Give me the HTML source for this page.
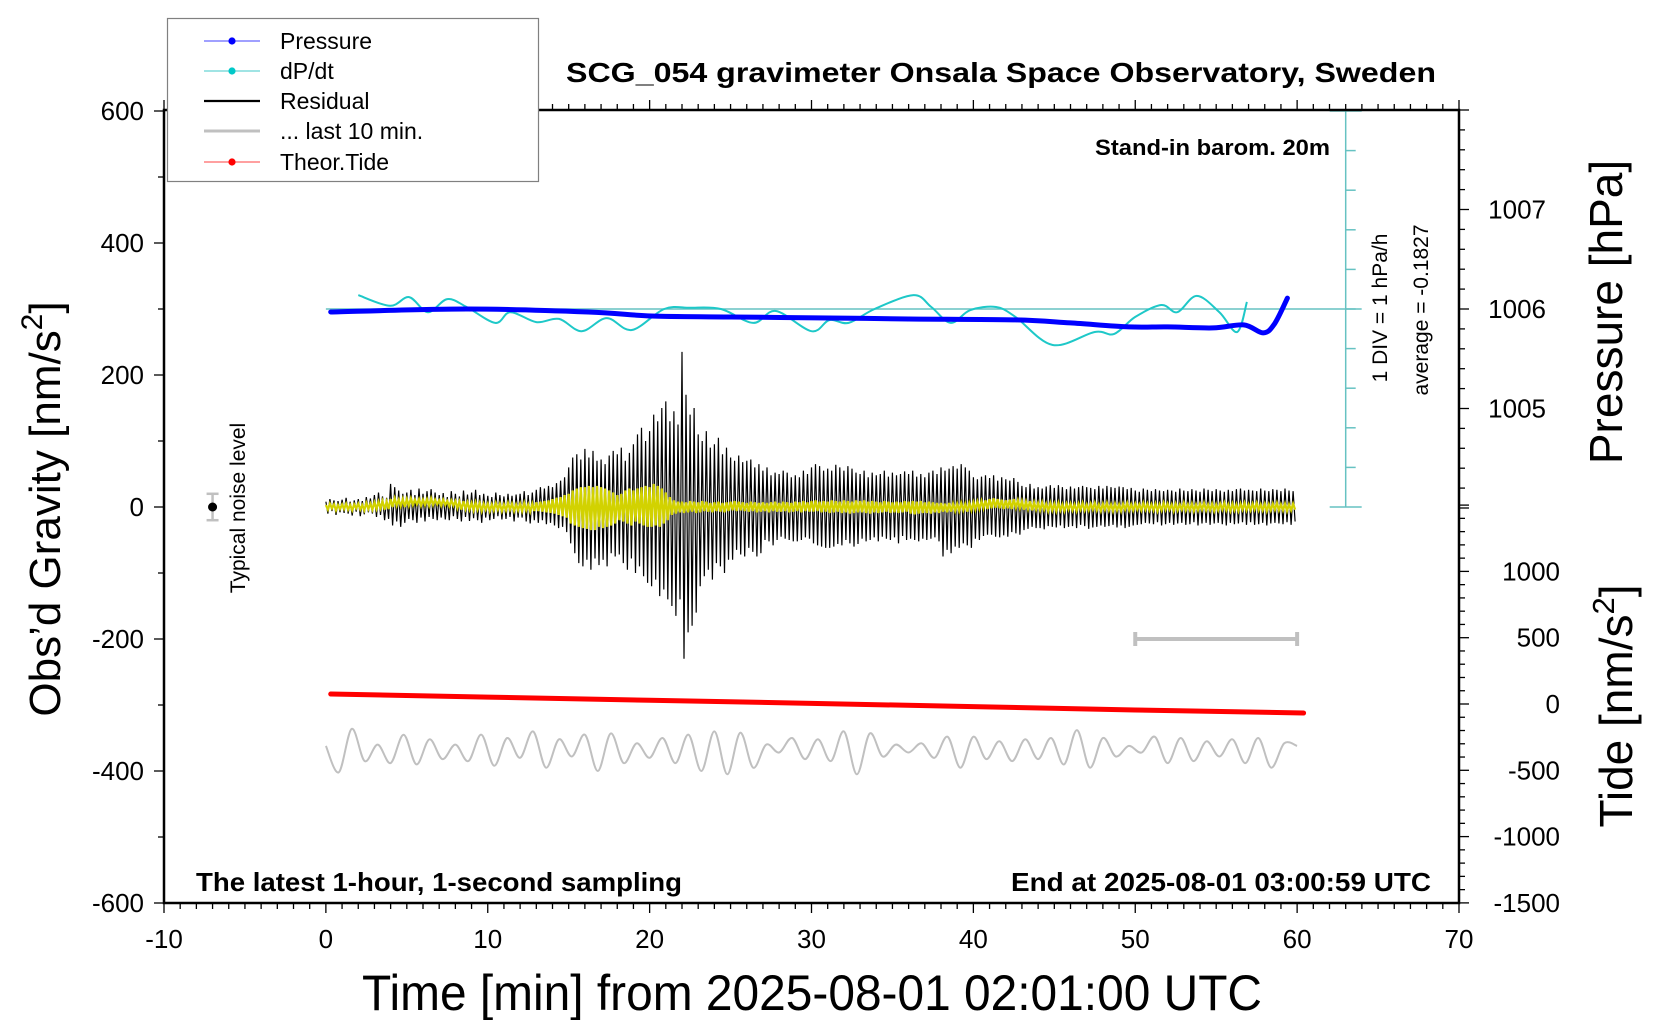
<!DOCTYPE html>
<html><head><meta charset="utf-8">
<style>
html,body{margin:0;padding:0;background:#fff;}
svg{display:block;font-family:"Liberation Sans",Arial,sans-serif;}
</style></head>
<body>
<svg id="chart" width="1660" height="1020" viewBox="0 0 1660 1020" xmlns="http://www.w3.org/2000/svg">
<g id="marks"></g>
<g id="axes"></g>
<g id="labels">
  <text x="566" y="82" font-size="28" font-weight="bold" textLength="870" lengthAdjust="spacingAndGlyphs">SCG_054 gravimeter Onsala Space Observatory, Sweden</text>
  <text x="1330" y="155" font-size="22" font-weight="bold" text-anchor="end" textLength="235" lengthAdjust="spacingAndGlyphs">Stand-in barom. 20m</text>
  <text x="196" y="891" font-size="26" font-weight="bold" textLength="486" lengthAdjust="spacingAndGlyphs">The latest 1-hour, 1-second sampling</text>
  <text x="1431" y="891" font-size="26" font-weight="bold" text-anchor="end" textLength="420" lengthAdjust="spacingAndGlyphs">End at 2025-08-01 03:00:59 UTC</text>
  <text x="362" y="1010" font-size="50" textLength="900" lengthAdjust="spacingAndGlyphs">Time [min] from 2025-08-01 02:01:00 UTC</text>
  <text transform="translate(60,509) rotate(-90)" font-size="44" text-anchor="middle">Obs’d Gravity [nm/s<tspan font-size="30" dy="-18">2</tspan><tspan dy="18">]</tspan></text>
  <text transform="translate(1622,312) rotate(-90)" font-size="46" text-anchor="middle">Pressure [hPa]</text>
  <text transform="translate(1632,706) rotate(-90)" font-size="46" text-anchor="middle">Tide [nm/s<tspan font-size="31" dy="-18">2</tspan><tspan dy="18">]</tspan></text>
  <text transform="translate(245,508) rotate(-90)" font-size="21" text-anchor="middle">Typical noise level</text>
  <text transform="translate(1387,308) rotate(-90)" font-size="21" text-anchor="middle">1 DIV = 1 hPa/h</text>
  <text transform="translate(1428,310) rotate(-90)" font-size="21" text-anchor="middle">average = -0.1827</text>
</g>
<g id="legend">
  <rect x="167.5" y="18.5" width="371" height="163" fill="#fff" stroke="#808080" stroke-width="1.2"/>
  <g>
    <line x1="204" y1="41" x2="260" y2="41" stroke="#4040ff" stroke-width="1"/><circle cx="232" cy="41" r="3.6" fill="#0000ff"/>
    <text x="280" y="49" font-size="23">Pressure</text></g>
  <g>
    <line x1="204" y1="71" x2="260" y2="71" stroke="#40c8c8" stroke-width="1"/><circle cx="232" cy="71" r="3.6" fill="#00c8c8"/>
    <text x="280" y="79" font-size="23">dP/dt</text></g>
  <g>
    <line x1="204" y1="101" x2="260" y2="101" stroke="#000" stroke-width="2.2"/>
    <text x="280" y="109" font-size="23">Residual</text></g>
  <g>
    <line x1="204" y1="131" x2="260" y2="131" stroke="#c0c0c0" stroke-width="3"/>
    <text x="280" y="139" font-size="23">... last 10 min.</text></g>
  <g>
    <line x1="204" y1="162" x2="260" y2="162" stroke="#ff4040" stroke-width="1"/><circle cx="232" cy="162" r="3.6" fill="#ff0000"/>
    <text x="280" y="170" font-size="23">Theor.Tide</text></g>
</g>
</svg>
<script>
// ---------- data ----------
const xTicks = [-10,0,10,20,30,40,50,60,70];
const gravTicks = [600,400,200,0,-200,-400,-600];
const pressTicks = [1007,1006,1005];
const tideTicks = [1000,500,0,-500,-1000,-1500];
const residualStep = 0.125;
const residual = [
8,-10,12,-6,10,-12,9,-8, 11,-9,14,-10,8,-13,10,-7, 12,-14,9,-11,15,-8,13,-10,
18,-15,22,-12,16,-20,14,-18, 35,-28,30,-22,25,-30,20,-24, 22,-18,26,-20,18,-24,28,-16,
20,-22,24,-15,27,-18,22,-20, 18,-16,21,-19,15,-20,24,-14, 20,-18,16,-22,25,-15,19,-21,
22,-17,26,-20,18,-24,20,-16, 17,-20,15,-18,22,-14,18,-19, 16,-18,20,-15,17,-22,19,-16,
20,-16,24,-22,18,-25,22,-20, 26,-24,30,-20,28,-26,32,-24, 30,-28,36,-32,40,-30,45,-38,
60,-55,75,-70,80,-85,72,-90, 88,-80,75,-95,85,-78,70,-88, 72,-80,65,-90,78,-70,85,-75,
80,-72,90,-85,70,-95,82,-78, 95,-100,110,-90,120,-105,100,-115, 115,-120,140,-110,130,-135,150,-125,
160,-140,130,-150,145,-165,125,-140, 235,-230,170,-190,140,-180,150,-160, 110,-120,100,-105,115,-95,90,-110,
95,-85,105,-90,80,-100,90,-80, 75,-80,70,-65,78,-72,68,-75, 70,-62,72,-68,60,-75,65,-70,
55,-50,60,-52,48,-58,52,-50, 50,-45,55,-48,52,-50,45,-52, 48,-52,45,-50,55,-46,50,-48,
60,-55,65,-58,62,-60,55,-62, 58,-62,55,-60,64,-56,60,-58, 55,-50,62,-55,58,-60,52,-56,
50,-48,55,-52,45,-50,52,-46, 48,-52,50,-45,55,-48,46,-50, 52,-46,48,-55,50,-44,54,-50,
50,-48,55,-50,46,-52,50,-48, 45,-50,52,-48,55,-46,50,-52, 60,-75,55,-65,58,-70,62,-60,
58,-62,65,-55,60,-58,55,-62, 45,-48,42,-50,46,-44,48,-42, 44,-42,48,-45,40,-46,45,-43,
42,-45,40,-38,44,-40,38,-42, 32,-35,30,-33,35,-30,28,-32, 30,-32,28,-34,31,-29,33,-30,
29,-31,33,-28,30,-32,27,-30, 31,-29,28,-32,30,-27,32,-29, 30,-33,29,-31,27,-30,32,-28,
28,-30,32,-29,30,-27,29,-31, 31,-28,30,-32,27,-30,29,-28, 25,-27,23,-26,28,-24,26,-25,
24,-26,27,-23,25,-28,24,-26, 26,-24,25,-27,23,-25,28,-24, 25,-27,24,-26,27,-23,25,-28,
23,-25,28,-24,26,-27,24,-25, 27,-24,25,-26,23,-28,26,-24, 24,-26,27,-25,28,-23,25,-27,
26,-23,25,-27,24,-26,28,-24, 25,-28,24,-25,27,-24,26,-25, 24,-26,28,-23,25,-27,24,-22];
const filtered = [
3,-4,5,-2,4,-5,3,-3, 4,-3,5,-4,3,-5,4,-2, 5,-4,3,-5,6,-3,5,-4,
7,-3,8,-2,9,-4,8,-3, 12,0,13,2,11,1,12,0, 12,2,13,3,11,4,12,2,
11,3,12,2,13,3,11,4, 10,2,11,3,9,1,10,2, 9,-2,8,-4,9,-3,7,-4,
6,-5,7,-4,6,-6,5,-4, 5,-6,4,-5,6,-4,5,-6, 4,-5,6,-4,5,-6,4,-5,
5,-6,6,-5,4,-7,5,-6, 7,-6,8,-7,9,-8,10,-9, 12,-10,14,-12,15,-14,18,-16,
20,-25,25,-28,28,-30,30,-32, 30,-33,32,-35,30,-35,32,-30, 30,-32,28,-30,25,-28,22,-25,
18,-20,20,-22,25,-25,28,-28, 25,-22,28,-25,30,-28,32,-30, 30,-30,35,-28,32,-30,28,-25,
22,-20,15,-12,10,-10,8,-8, 8,-9,7,-8,9,-7,8,-9, 7,-8,9,-6,8,-7,6,-8,
7,-6,8,-7,6,-8,7,-6, 8,-5,9,-6,8,-5,7,-6, 6,-7,8,-6,7,-8,6,-7,
7,-6,6,-8,7,-6,8,-7, 6,-7,8,-6,7,-8,6,-7, 8,-6,7,-8,9,-6,7,-7,
9,-7,10,-6,8,-8,9,-7, 8,-9,10,-8,9,-7,8,-9, 10,-8,9,-10,8,-9,10,-8,
9,-8,10,-9,8,-10,9,-8, 8,-9,7,-8,9,-7,8,-9, 7,-8,8,-9,7,-8,9,-7,
8,-10,9,-11,8,-10,9,-9, 7,-9,8,-10,7,-8,6,-9, 6,-7,5,-8,6,-7,5,-6,
5,-6,6,-5,5,-7,6,-5, 7,-4,8,-3,9,-2,10,-3, 12,-2,13,-1,12,-2,11,-3,
10,-2,11,-3,12,-1,10,-2, 9,-4,8,-3,9,-5,7,-4, 6,-5,7,-4,5,-6,6,-5,
5,-6,6,-5,4,-6,5,-4, 5,-5,4,-6,5,-4,6,-5, 4,-5,5,-4,6,-5,4,-6,
5,-4,6,-5,4,-6,5,-5, 4,-6,5,-4,6,-5,4,-5, 5,-4,4,-5,6,-4,5,-5,
4,-5,5,-6,4,-5,6,-4, 5,-4,4,-6,5,-5,4,-4, 6,-5,4,-5,5,-6,4,-5,
5,-4,6,-5,4,-5,5,-6, 4,-5,5,-4,6,-5,4,-6, 5,-5,4,-6,5,-4,6,-5,
4,-5,5,-4,6,-5,4,-5, 5,-6,4,-5,5,-4,6,-5, 4,-5,5,-6,4,-5,5,-4];
const lastTenStep = 0.8;
const lastTen = [-362,-402,-336,-385,-360,-388,-345,-390,-352,-382,-360,-385,-345,-392,-350,-380,-340,-395,-352,-378,-345,-400,-343,-388,-358,-380,-350,-388,-345,-400,-340,-405,-342,-395,-360,-372,-350,-382,-352,-385,-340,-405,-343,-378,-360,-372,-358,-380,-348,-395,-348,-382,-355,-385,-352,-382,-350,-390,-338,-395,-350,-378,-362,-372,-348,-388,-350,-385,-355,-378,-352,-388,-350,-395,-358,-362];
const pressureTime = [0.3,8.7,16.2,20.1,25,31.1,36,42.6,46,49.6,52,54.8,56.7,57.9,58.6,59.4];
const pressureVal = [1005.97,1006.00,1005.97,1005.93,1005.92,1005.91,1005.90,1005.89,1005.86,1005.82,1005.82,1005.81,1005.84,1005.76,1005.85,1006.11];
const dpdtTime = [2.0,3.96,5.14,6.3,7.5,8.7,10.46,11.4,13.0,14.4,15.8,17.35,18.9,20.9,22.5,24.4,26.4,27.8,30.0,31.1,32.3,33.9,36.3,37.4,38.6,39.8,41.4,42.6,44.9,47.5,48.7,50.0,51.6,52.6,53.8,55.2,56.3,56.9];
const dpdtVal = [0.35,0.08,0.30,-0.08,0.25,0.05,-0.35,-0.08,-0.33,-0.25,-0.56,-0.23,-0.53,0,0.03,0,-0.35,-0.05,-0.56,-0.28,-0.35,0,0.35,0.05,-0.35,-0.03,0.05,-0.2,-0.91,-0.58,-0.63,-0.2,0.1,-0.08,0.33,-0.08,-0.58,0.18];
const tideTime = [0.3,10,20,30,40,50,60.4];
const tideVal = [75,52,28,5,-20,-45,-68];
const noiseLevel = {t:-7, val:0, err:20};
const windowBar = {t0:50, t1:60, val:-200};

// ---------- axis functions ----------
const X0=164, X1=1459, TOP=110, BOT=903;
const xs = t => X0 + (t+10)*(X1-X0)/80;
const yg = g => 507 - g*0.66;
const yp = p => 309 - (p-1006)*99.5;
const yt = v => 704 - v*0.1326;
const yd = d => 309 - d*39.6;
const NS="http://www.w3.org/2000/svg";
const marks=document.getElementById('marks'), axes=document.getElementById('axes');
function mk(tag, parent, attrs){const e=document.createElementNS(NS,tag);for(const k in attrs)e.setAttribute(k,attrs[k]);parent.appendChild(e);return e;}
function smooth(pts){let d=`M${pts[0][0].toFixed(1)},${pts[0][1].toFixed(1)}`;
  for(let i=0;i<pts.length-1;i++){const p0=pts[Math.max(0,i-1)],p1=pts[i],p2=pts[i+1],p3=pts[Math.min(pts.length-1,i+2)];
    d+=` C${(p1[0]+(p2[0]-p0[0])/6).toFixed(1)},${(p1[1]+(p2[1]-p0[1])/6).toFixed(1)} ${(p2[0]-(p3[0]-p1[0])/6).toFixed(1)},${(p2[1]-(p3[1]-p1[1])/6).toFixed(1)} ${p2[0].toFixed(1)},${p2[1].toFixed(1)}`;}
  return d;}

// dP/dt scale axis (cyan)
const cx=xs(63);
let e=mk('line',marks,{x1:xs(0),y1:yd(0),x2:cx+16,y2:yd(0),stroke:'#66c2c2','stroke-width':1.5});


e=mk('line',marks,{x1:cx,y1:TOP,x2:cx,y2:yd(-5),stroke:'#66c2c2','stroke-width':1.5});


for(let d=5; d>=-5; d--){const w=(d===-5||d===5)?16:0; const t=mk('line',marks,{x1:cx-w,y1:yd(d),x2:cx+w,y2:yd(d),stroke:'#66c2c2','stroke-width':1.5});
  if(!w){t.setAttribute('x1',cx);t.setAttribute('x2',cx+10);}
  
  }

e=mk('path',marks,{d:smooth(lastTen.map((v,i)=>[xs(i*lastTenStep),yg(v)])),fill:'none',stroke:'#c0c0c0','stroke-width':2});


const wb=mk('g',marks,{stroke:'#c0c0c0','stroke-width':4,fill:'none'});


mk('line',wb,{x1:xs(windowBar.t0),y1:yg(windowBar.val),x2:xs(windowBar.t1),y2:yg(windowBar.val)});
mk('line',wb,{x1:xs(windowBar.t0),y1:yg(windowBar.val)-7,x2:xs(windowBar.t0),y2:yg(windowBar.val)+7});
mk('line',wb,{x1:xs(windowBar.t1),y1:yg(windowBar.val)-7,x2:xs(windowBar.t1),y2:yg(windowBar.val)+7});
e=mk('polyline',marks,{points:tideTime.map((t,i)=>xs(t)+','+yt(tideVal[i])).join(' '),fill:'none',stroke:'#ff0000','stroke-width':5,'stroke-linecap':'round'});


e=mk('polyline',marks,{points:residual.map((v,i)=>xs(i*residualStep).toFixed(1)+','+yg(v).toFixed(1)).join(' '),fill:'none',stroke:'#000','stroke-width':1.2});


e=mk('polyline',marks,{points:filtered.map((v,i)=>xs(i*residualStep).toFixed(1)+','+yg(v).toFixed(1)).join(' '),fill:'none',stroke:'#d2d200','stroke-width':2.2});


e=mk('path',marks,{d:smooth(dpdtTime.map((t,i)=>[xs(t),yd(dpdtVal[i])])),fill:'none',stroke:'#1ec8c8','stroke-width':2});


e=mk('path',marks,{d:smooth(pressureTime.map((t,i)=>[xs(t),yp(pressureVal[i])])),fill:'none',stroke:'#0000ff','stroke-width':5,'stroke-linecap':'round'});


const nl=mk('g',marks,{});


mk('line',nl,{x1:xs(noiseLevel.t),y1:yg(noiseLevel.err),x2:xs(noiseLevel.t),y2:yg(-noiseLevel.err),stroke:'#c0c0c0','stroke-width':2.5});
mk('line',nl,{x1:xs(noiseLevel.t)-6,y1:yg(noiseLevel.err),x2:xs(noiseLevel.t)+6,y2:yg(noiseLevel.err),stroke:'#c0c0c0','stroke-width':2.5});
mk('line',nl,{x1:xs(noiseLevel.t)-6,y1:yg(-noiseLevel.err),x2:xs(noiseLevel.t)+6,y2:yg(-noiseLevel.err),stroke:'#c0c0c0','stroke-width':2.5});
mk('circle',nl,{cx:xs(noiseLevel.t),cy:yg(noiseLevel.val),r:4.5,fill:'#000'});

// ---------- axes ----------
e=mk('rect',axes,{x:X0,y:TOP,width:X1-X0,height:BOT-TOP,fill:'none',stroke:'#000','stroke-width':2.5});


for(let t=-10;t<=70;t++){const major=t%10===0, L=major?10:6;
  mk('line',axes,{x1:xs(t),y1:BOT,x2:xs(t),y2:BOT+L,stroke:'#000','stroke-width':1.3});
  mk('line',axes,{x1:xs(t),y1:TOP,x2:xs(t),y2:TOP-L,stroke:'#000','stroke-width':1.3});}
xTicks.forEach(t=>{const l=mk('text',axes,{x:xs(t),y:948,'font-size':26,'text-anchor':'middle'});l.textContent=t;
  
  });
for(let g=-600;g<=600;g+=100){const L=g%200===0?10:6;mk('line',axes,{x1:X0-L,y1:yg(g),x2:X0,y2:yg(g),stroke:'#000','stroke-width':1.3});}
gravTicks.forEach(g=>{const l=mk('text',axes,{x:X0-20,y:yg(g)+9,'font-size':26,'text-anchor':'end'});l.textContent=g;
  
  });
for(let k=0;k<=20;k++){const p=1004+k*0.2;const y=yp(p);if(y<TOP-1||y>508)continue;const major=Math.abs(p-Math.round(p))<0.01;
  mk('line',axes,{x1:X1,y1:y,x2:X1+(major?10:6),y2:y,stroke:'#000','stroke-width':1.3});}
pressTicks.forEach(p=>{const l=mk('text',axes,{x:1546,y:yp(p)+9,'font-size':26,'text-anchor':'end'});l.textContent=p;
  
  });
for(let v=-1500;v<=1500;v+=100){const y=yt(v);if(y<505||y>BOT+1)continue;
  mk('line',axes,{x1:X1,y1:y,x2:X1+(v%500===0?10:6),y2:y,stroke:'#000','stroke-width':1.3});}
tideTicks.forEach(v=>{const l=mk('text',axes,{x:1560,y:yt(v)+9,'font-size':26,'text-anchor':'end'});l.textContent=v;
  
  });
document.getElementById('chart').appendChild(document.getElementById('legend'));
</script>
</body></html>
